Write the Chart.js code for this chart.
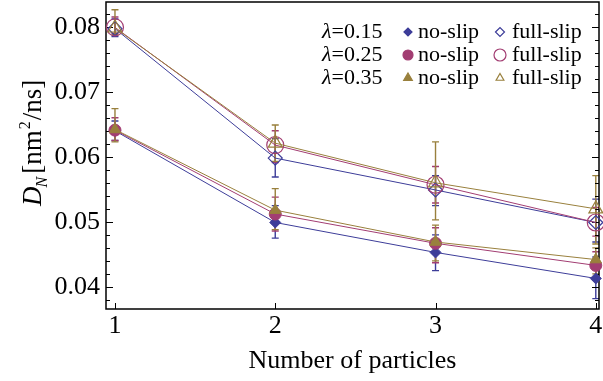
<!DOCTYPE html>
<html>
<head>
<meta charset="utf-8">
<script src="https://cdn.jsdelivr.net/npm/chart.js@4.4.0/dist/chart.umd.min.js"></script>
<style>
  html, body { margin: 0; padding: 0; background: #fff; }
  #wrap { width: 603px; height: 381px; }
</style>
</head>
<body>
<div id="wrap"><canvas id="chart"></canvas></div>
<script>
// data
const particles = [1, 2, 3, 4];
const xTicks = [1, 2, 3, 4];
const yTicks = [0.04, 0.05, 0.06, 0.07, 0.08];

const noSlip015 = [0.0640, 0.0499, 0.0453, 0.0413];
const noSlip025 = [0.0641, 0.0512, 0.0467, 0.0433];
const noSlip035 = [0.0642, 0.0518, 0.0469, 0.0442];
const fullSlip015 = [0.0797, 0.0598, 0.0549, 0.0499];
const fullSlip025 = [0.0799, 0.0618, 0.0557, 0.0499];
const fullSlip035 = [0.0798, 0.0621, 0.0560, 0.0520];

// error bar extents [low, high]
const errNoSlip015 = [[0.0625, 0.0655], [0.0475, 0.0525], [0.0425, 0.0480], [0.0382, 0.0446]];
const errNoSlip025 = [[0.0625, 0.0660], [0.0486, 0.0538], [0.0437, 0.0491], [0.0410, 0.0454]];
const errNoSlip035 = [[0.0623, 0.0674], [0.0488, 0.0551], [0.0440, 0.0495], [0.0420, 0.0460]];
const errFullSlip015 = [[0.0785, 0.0812], [0.0569, 0.0628], [0.0525, 0.0571], [0.0469, 0.0535]];
const errFullSlip025 = [[0.0790, 0.0815], [0.0591, 0.0640], [0.0529, 0.0585], [0.0478, 0.0522]];
const errFullSlip035 = [[0.0788, 0.0826], [0.0593, 0.0649], [0.0503, 0.0623], [0.0466, 0.0571]];

const lambdas = ['0.15', '0.25', '0.35'];

const BLUE = '#3d3d99';
const PINK = '#a23d72';
const GOLD = '#99803d';
const SERIF = '"Liberation Serif", "DejaVu Serif", serif';

const pts = vals => particles.map((x, i) => ({ x: x, y: vals[i] }));

function series(vals, errs, color, style, radius, filled, order) {
  return {
    data: pts(vals),
    errs: errs,
    borderColor: color,
    borderWidth: 1,
    pointStyle: style,
    pointRadius: radius,
    pointHoverRadius: radius,
    pointBorderColor: color,
    pointBackgroundColor: filled ? color : 'rgba(0,0,0,0)',
    pointBorderWidth: filled ? 1 : 1.2,
    tension: 0,
    fill: false,
    clip: false,
    order: order
  };
}

const datasets = [
  series(noSlip015, errNoSlip015, BLUE, 'rectRot', 5.5, true, 5),
  series(noSlip025, errNoSlip025, PINK, 'circle', 6, true, 4),
  series(noSlip035, errNoSlip035, GOLD, 'triangle', 6.5, true, 3),
  series(fullSlip015, errFullSlip015, BLUE, 'rectRot', 7, false, 2),
  series(fullSlip025, errFullSlip025, PINK, 'circle', 8.5, false, 1),
  series(fullSlip035, errFullSlip035, GOLD, 'triangle', 8, false, 0)
];

// error bars, frame and frame ticks
const framePlugin = {
  id: 'frame',
  beforeDatasetsDraw(chart) {
    const ctx = chart.ctx;
    const xs = chart.scales.x, ys = chart.scales.y;
    const a = chart.chartArea;
    ctx.save();
    // error bars
    chart.data.datasets.forEach(ds => {
      ctx.strokeStyle = ds.borderColor;
      ctx.lineWidth = 1.4;
      ds.errs.forEach((e, i) => {
        const px = xs.getPixelForValue(particles[i]);
        const y0 = ys.getPixelForValue(e[0]);
        const y1 = ys.getPixelForValue(e[1]);
        ctx.beginPath();
        ctx.moveTo(px, y0); ctx.lineTo(px, y1);
        ctx.moveTo(px - 3.5, y0); ctx.lineTo(px + 3.5, y0);
        ctx.moveTo(px - 3.5, y1); ctx.lineTo(px + 3.5, y1);
        ctx.stroke();
      });
    });
    // frame
    ctx.strokeStyle = '#000';
    ctx.lineWidth = 1.5;
    ctx.strokeRect(a.left, a.top, a.right - a.left, a.bottom - a.top);
    ctx.lineWidth = 1;
    ctx.beginPath();
    for (let k = 19; k <= 41; k++) {
      const v = k * 0.002;
      const py = Math.round(ys.getPixelForValue(v)) + 0.5;
      if (py < a.top || py > a.bottom) continue;
      const len = (k % 5 === 0) ? 7 : 4;
      ctx.moveTo(a.left, py); ctx.lineTo(a.left + len, py);
      ctx.moveTo(a.right, py); ctx.lineTo(a.right - len, py);
    }
    xTicks.forEach(v => {
      const px = Math.round(xs.getPixelForValue(v)) + 0.5;
      ctx.moveTo(px, a.bottom); ctx.lineTo(px, a.bottom - 6);
    });
    ctx.stroke();
    ctx.restore();
  },
  afterDraw(chart) {
    const ctx = chart.ctx;
    ctx.save();
    // y axis title: D_N [nm^2/ns]
    ctx.translate(41, 206);
    ctx.rotate(-Math.PI / 2);
    ctx.fillStyle = '#000';
    ctx.textBaseline = 'alphabetic';
    ctx.textAlign = 'left';
    let x = 0;
    ctx.font = 'italic 27px ' + SERIF;
    ctx.fillText('D', x, 0); x += ctx.measureText('D').width;
    ctx.font = 'italic 16px ' + SERIF;
    ctx.fillText('N', x - 1, 6); x += ctx.measureText('N').width + 2;
    ctx.font = '27px ' + SERIF;
    ctx.fillText('[nm', x, 0); x += ctx.measureText('[nm').width;
    ctx.font = '16px ' + SERIF;
    ctx.fillText('2', x + 1, -11); x += ctx.measureText('2').width + 2;
    ctx.font = '27px ' + SERIF;
    ctx.fillText('/ns]', x, 0);
    ctx.restore();

    // legend
    ctx.save();
    const rows = [38, 61, 84];
    const legendSets = [[0, 3], [1, 4], [2, 5]];
    rows.forEach((by, r) => {
      ctx.fillStyle = '#000';
      ctx.textBaseline = 'alphabetic';
      ctx.textAlign = 'left';
      ctx.font = 'italic 22px ' + SERIF;
      ctx.fillText('\u03bb', 322, by);
      const lw = ctx.measureText('\u03bb').width;
      ctx.font = '22px ' + SERIF;
      ctx.fillText('=' + lambdas[r], 322 + lw, by);
      ctx.fillText('no-slip', 418, by);
      ctx.fillText('full-slip', 512, by);
      const fs = chart.data.datasets[legendSets[r][0]];
      const hs = chart.data.datasets[legendSets[r][1]];
      ctx.fillStyle = fs.borderColor;
      ctx.strokeStyle = fs.borderColor;
      Chart.helpers.drawPoint(ctx, { pointStyle: fs.pointStyle, radius: fs.pointStyle === 'rectRot' ? 4 : 5, rotation: 0, borderWidth: 1 }, 408, by - 6);
      ctx.fillStyle = 'rgba(0,0,0,0)';
      ctx.strokeStyle = hs.borderColor;
      Chart.helpers.drawPoint(ctx, { pointStyle: hs.pointStyle, radius: hs.pointStyle === 'circle' ? 6 : 4.5, rotation: 0, borderWidth: 1.2 }, 500, by - 6);
    });
    ctx.restore();
  }
};

new Chart(document.getElementById('chart'), {
  type: 'line',
  data: { datasets: datasets },
  plugins: [framePlugin],
  options: {
    responsive: true,
    maintainAspectRatio: false,
    animation: false,
    layout: { autoPadding: false, padding: { top: 2, right: 4, bottom: 0, left: 0 } },
    plugins: { legend: { display: false }, tooltip: { enabled: false } },
    scales: {
      x: {
        type: 'linear',
        min: 0.944,
        max: 4.02,
        afterBuildTicks: s => { s.ticks = xTicks.map(v => ({ value: v })); },
        afterFit: s => { s.height = 72; s.paddingLeft = 0; s.paddingRight = 0; },
        grid: { display: false, drawTicks: false },
        border: { display: false },
        ticks: { color: '#000', font: { family: SERIF, size: 26 }, padding: 2, maxRotation: 0, callback: v => String(v) },
        title: { display: true, text: 'Number of particles', color: '#000', font: { family: SERIF, size: 26 }, padding: { top: 0, bottom: 4 } }
      },
      y: {
        min: 0.0366,
        max: 0.0838,
        afterBuildTicks: s => { s.ticks = yTicks.map(v => ({ value: v })); },
        afterFit: s => { s.width = 106; s.paddingTop = 0; s.paddingBottom = 0; },
        grid: { display: false, drawTicks: false },
        border: { display: false },
        ticks: { color: '#000', font: { family: SERIF, size: 26 }, padding: 6, callback: v => v.toFixed(2) }
      }
    }
  }
});
</script>
</body>
</html>
